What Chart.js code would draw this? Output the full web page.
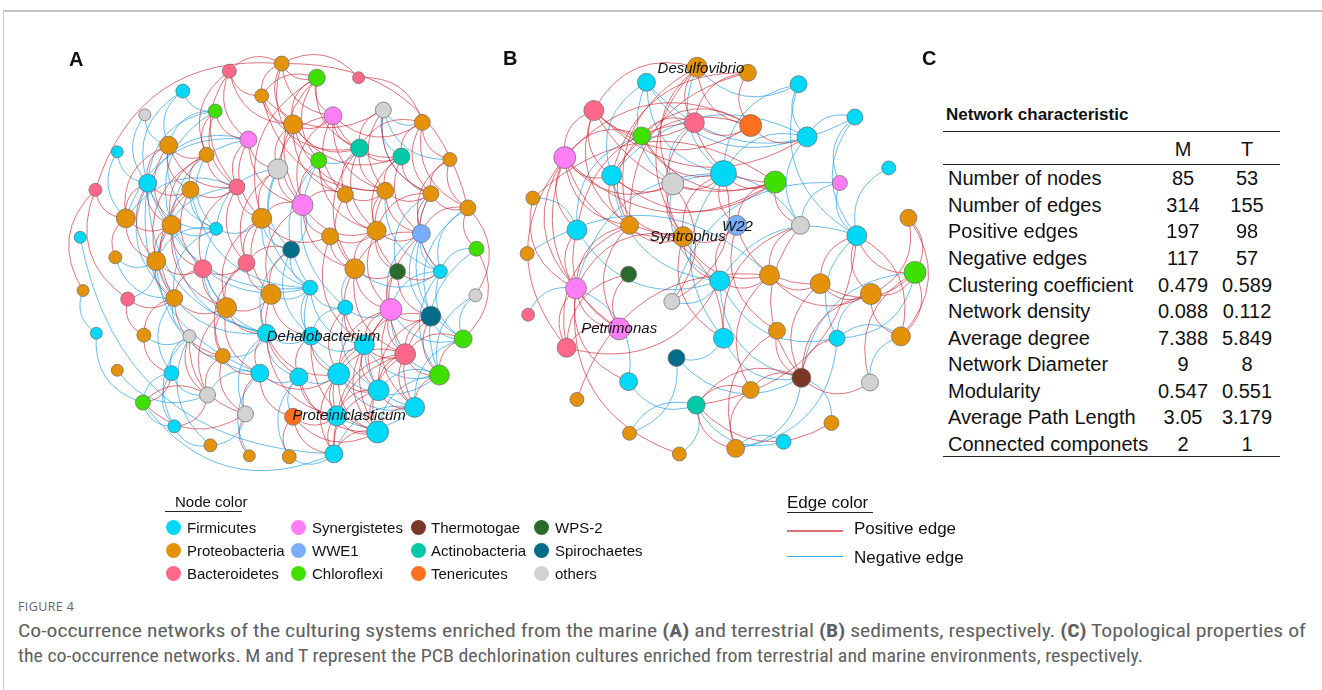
<!DOCTYPE html>
<html><head><meta charset="utf-8">
<script src="https://cdn.jsdelivr.net/npm/chart.js@4/dist/chart.umd.min.js"></script>
<style>
html,body{margin:0;padding:0;background:#fff;}
body{width:1322px;height:690px;position:relative;overflow:hidden;font-family:"Liberation Sans",Arial,sans-serif;color:#111;}
.abs{position:absolute;white-space:nowrap;}
canvas{position:absolute;}
</style></head><body>
<div class="abs" style="left:4px;top:10px;width:1318px;height:0;border-top:2px solid #c4c4c4"></div>
<div class="abs" style="left:3px;top:10px;width:0;height:680px;border-left:1px solid #cccccc"></div>
<canvas id="ca" width="470" height="465" style="left:40px;top:30px"></canvas>
<canvas id="cb" width="450" height="465" style="left:490px;top:30px"></canvas>
<div id="txt"></div>
<script>
// ---------- categories ----------
const phyla = ["Firmicutes","Proteobacteria","Bacteroidetes","Synergistetes","WWE1","Chloroflexi","Thermotogae","Actinobacteria","Tenericutes","WPS-2","Spirochaetes","others"];
const phylaColors = ["#00D8F8","#E3920A","#FF6889","#FF7DF5","#79AEFF","#3FE000","#7A3728","#00C8A8","#FF6F1F","#2C6A2C","#046C87","#D2D2D2"];

// ---------- network A (marine) : layout x, y, node size, phylum index ----------
const aX = [227,282,319,363,178,261,212,138,294,336,389,430,109,163,203,247,364,408,321,278,459,86,141,186,235,349,391,439,304,478,118,166,213,261,333,382,429,487,70,292,107,150,199,245,359,404,449,73,120,169,224,271,312,486,349,397,439,87,137,185,266,313,369,473,220,412,109,166,259,300,342,448,204,384,136,244,294,340,422,383,169,207,248,290,337];
const aY = [61,53,68,68,82,87,103,107,117,108,102,115,146,139,149,133,142,151,155,164,154,186,179,186,183,191,187,190,202,205,216,223,227,216,235,229,232,248,236,249,257,261,269,263,269,272,272,292,301,300,310,296,289,297,310,312,319,337,339,340,337,340,349,343,361,359,376,379,379,383,380,381,402,397,410,422,425,424,415,441,435,455,466,467,464];
const aSize = [7,7.5,8.5,6,7,7,7,6,9.5,9,8,8,6,9,7.5,8.5,9,8.5,8,10,7,6.5,9,8.5,8,8,8.5,8,10.5,8,9.5,9.5,6.5,10,8.5,9.5,9,7.5,6,8.5,6.5,9.5,9,8.5,10,8,7,6,7,8.5,10,10,7.5,6.5,7.5,11,10,6,7,6.5,9,9,10,9,7.5,10.5,6,7.5,9,9,11,10,8,10.5,7.5,8,8.5,10,10,11,6.5,6.5,6,7,9];
const aGroup = [2,1,5,2,0,1,5,11,1,3,11,1,0,1,1,3,7,7,5,11,1,2,0,1,2,1,1,1,3,1,1,1,0,1,1,1,4,5,0,10,1,1,2,2,1,9,0,1,2,1,1,1,0,11,0,3,10,0,1,11,0,0,0,5,1,2,1,0,0,0,0,5,11,0,5,11,8,0,0,0,0,1,1,1,0];
const aPos = [[1,21],[29,1],[1,0],[3,1],[11,3],[21,47],[53,29],[63,37],
[0,5],[0,8],[0,15],[0,24],[0,14],[1,5],[1,8],[1,2],[1,9],[1,18],
[2,5],[2,8],[2,9],[2,18],[2,28],[2,33],[2,16],[5,8],[5,16],[5,10],[5,26],
[6,15],[6,14],[6,24],[8,9],[8,16],[8,19],[8,25],[8,26],[8,28],[8,17],
[9,16],[9,17],[9,19],[9,25],[9,28],[9,26],[9,11],[10,16],[10,26],[10,27],
[11,17],[11,27],[11,29],[11,20],[11,16],[13,14],[13,22],[13,30],[13,31],[13,23],[13,24],
[14,24],[14,31],[14,23],[14,41],[15,19],[15,24],[15,33],[15,28],
[16,17],[16,25],[16,26],[16,35],[16,44],[17,26],[17,27],[17,35],[17,36],
[18,25],[18,28],[18,35],[19,33],[19,28],[19,43],[20,27],[20,29],[20,36],[21,30],[21,48],
[22,23],[22,30],[22,31],[22,41],[23,31],[23,24],[23,42],[23,49],[24,33],[24,43],[24,42],
[25,26],[25,28],[25,35],[25,44],[26,27],[26,35],[26,36],[26,45],[27,29],[27,36],[27,35],[27,46],
[28,33],[28,34],[28,35],[28,51],[28,44],[29,37],[29,36],[30,31],[30,41],[30,40],
[31,41],[31,49],[31,42],[31,50],[33,34],[33,43],[33,51],[33,50],[34,35],[34,44],[34,62],
[35,36],[35,44],[35,45],[35,55],[36,44],[36,65],[39,51],[39,43],[41,49],[41,42],
[42,43],[42,50],[42,49],[43,50],[43,51],[43,64],[44,45],[44,55],[44,62],[44,65],
[45,55],[45,46],[45,56],[48,49],[48,58],[49,58],[49,50],[49,64],
[50,64],[50,68],[50,51],[50,72],[50,60],[51,60],[51,61],[51,69],[54,62],[54,70],
[55,56],[55,62],[55,65],[55,70],[55,73],[55,79],[55,78],[56,65],[56,62],[56,71],[56,73],[56,78],
[58,67],[59,72],[59,75],[59,64],[60,68],[60,77],[60,70],[61,69],[61,70],[61,79],
[62,65],[62,70],[62,73],[62,77],[62,79],[63,71],[63,65],[64,72],[64,75],[64,68],
[65,70],[65,73],[65,78],[65,79],[65,71],[65,77],[65,84],[68,70],[68,76],[68,75],[69,77],[69,79],
[70,73],[70,77],[70,79],[70,84],[71,78],[72,74],[73,77],[73,78],[73,79],[73,84],[74,75],[74,67],
[76,79],[76,84],[76,77],[77,79],[77,84],[78,79],[79,84],[75,82],[76,83],[80,72]];
const aNeg = [[47,57],[38,84],[74,84],[66,72],[57,74],
[4,13],[4,6],[4,22],[6,13],[6,22],[6,31],[7,22],[7,13],[10,17],[10,11],[10,27],[10,20],
[12,22],[12,30],[13,32],[14,32],[15,22],[15,30],[15,31],[18,52],[18,16],[18,54],[19,39],[19,52],[19,32],
[22,32],[22,60],[22,68],[22,52],[22,49],[23,32],[23,52],[24,30],[24,41],
[26,46],[27,46],[27,45],[29,46],[29,56],[31,32],[31,52],[31,60],[32,49],[32,41],[32,33],[32,50],
[33,52],[33,39],[36,46],[36,55],[36,56],[36,63],[37,46],[37,71],[39,52],[39,60],[39,61],[39,28],
[40,41],[40,49],[41,60],[41,68],[42,61],[42,60],[44,46],[44,54],[46,55],[46,63],[46,71],[48,41],
[49,59],[49,67],[51,52],[52,61],[52,54],[52,70],[52,62],[53,63],[53,71],[54,55],[54,73],[54,61],
[55,63],[55,71],[56,63],[58,59],[59,67],[59,80],[59,81],[60,69],[60,61],[60,75],[61,62],[62,71],[62,78],
[63,78],[64,60],[67,72],[67,74],[67,80],[68,72],[68,69],[68,82],[69,70],[69,76],[69,83],[70,71],[70,78],
[71,73],[71,79],[74,80],[77,78],[78,84],[80,81],[83,84],[81,75]];
const aLabels = ["Dehalobacterium","Proteiniclasticum"];
const aLabelX = [326,353];
const aLabelY = [339,423];

// ---------- network B (terrestrial) ----------
const bX = [696,750,642,804,586,693,753,637,864,813,555,605,670,724,779,848,900,521,568,624,681,738,806,866,921,515,567,623,720,773,827,881,928,516,669,613,557,724,781,845,913,674,807,623,753,880,568,695,839,624,788,737,677];
const bY = [55,61,71,73,101,114,117,128,108,129,151,170,179,168,177,178,162,194,228,223,235,223,223,234,215,253,290,275,282,276,285,296,273,318,304,333,353,343,335,343,341,364,385,389,398,390,408,414,433,444,453,460,466];
const bSize = [10,8.5,9,8.5,10,10,11,9,8,10,11,10,11,13,11,7.5,7,7,10,9,10,10,9,10,8.5,7,10.5,8,10,10,10,10.5,11,6.5,8,11,9.5,10,8.5,8,9.5,8.5,9.5,9,8.5,8.5,7,9,7.5,7,7.5,9,7];
const bGroup = [1,1,0,0,2,2,8,5,0,0,3,0,11,0,5,3,0,1,0,1,1,4,11,0,1,1,3,9,0,1,1,1,5,2,11,3,2,0,1,0,1,10,6,0,1,11,1,7,1,1,0,1,1];
const bPos = [[0,4],[0,5],[0,20],[0,12],[0,6],[0,19],[1,5],[1,6],[1,19],[1,11],
[4,5],[4,6],[4,10],[4,11],[4,19],[4,14],[4,9],[5,6],[5,7],[5,20],[5,18],[5,14],
[6,9],[6,7],[6,11],[6,10],[7,10],[7,19],[7,14],[7,13],
[10,11],[10,18],[10,19],[10,26],[10,36],[10,35],[10,14],[10,20],[10,12],
[11,19],[11,20],[11,12],[11,14],[12,20],[12,13],[13,20],[13,14],[13,21],[14,22],[14,21],[14,17],
[17,26],[18,26],[18,35],[19,26],[19,35],[19,20],[19,36],[20,21],[20,29],[20,37],[20,26],[20,28],
[21,28],[21,38],[21,30],[22,29],[22,37],[22,42],[23,31],[23,32],[40,23],[23,30],[31,24],[40,24],[32,24],
[26,35],[26,36],[26,52],[26,43],[27,35],[27,36],[28,29],[29,30],[29,31],[29,44],[29,46],
[30,31],[30,42],[30,32],[31,32],[31,40],[31,42],[40,32],[32,45],[34,12],[34,13],[35,36],[36,28],
[37,19],[38,42],[38,51],[39,42],[42,45],[42,47],[42,44],[44,51],[44,47],[47,51],[47,48],[47,23]];
const bNeg = [[0,3],[0,13],[2,13],[2,12],[2,9],[2,11],[2,8],[3,13],[3,23],[3,9],[8,9],[8,23],[8,15],
[9,13],[9,11],[9,22],[15,22],[15,23],[15,34],[16,23],[5,12],[13,26],[11,28],[7,18],[18,17],[26,33],
[28,39],[28,42],[37,42],[41,37],[41,42],[43,47],[47,49],[47,50],[50,51],[51,42],[51,39],[39,32],[32,42],
[23,39],[22,12],[12,28],[13,37],[18,28],[29,25],[34,28],[40,39],[40,45],[31,39],[23,28],[48,42],[52,47],[49,41],[43,26]];
const bLabels = ["Desulfovibrio","W22","Syntrophus","Petrimonas"];
const bLabelX = [700,739,686,613];
const bLabelY = [55,223,234,332];

// ---------- table C ----------
const tableTitle = "Network characteristic";
const tableCols = ["M","T"];
const tableRows = ["Number of nodes","Number of edges","Positive edges","Negative edges","Clustering coefficient","Network density","Average degree","Network Diameter","Modularity","Average Path Length","Connected componets"];
const tableM = ["85","314","197","117","0.479","0.088","7.388","9","0.547","3.05","2"];
const tableT = ["53","155","98","57","0.589","0.112","5.849","8","0.551","3.179","1"];

// ---------- legends ----------
const edgeLegend = ["Positive edge","Negative edge"];
const edgeColors = ["rgba(200,40,52,0.72)","rgba(40,160,226,0.78)"];

const CURV = 0.4;
function edgePlugin(pos, neg, X, Y){
  return {id:'edges', beforeDatasetsDraw(chart){
    const ctx=chart.ctx, sx=chart.scales.x, sy=chart.scales.y;
    ctx.save(); ctx.lineWidth=0.9;
    const draw=(list,color)=>{
      ctx.strokeStyle=color;
      for(const [i,j] of list){
        const x1=sx.getPixelForValue(X[i]), y1=sy.getPixelForValue(Y[i]);
        const x2=sx.getPixelForValue(X[j]), y2=sy.getPixelForValue(Y[j]);
        const dx=x2-x1, dy=y2-y1;
        const cx=(x1+x2)/2-CURV*dy, cy=(y1+y2)/2+CURV*dx;
        ctx.beginPath(); ctx.moveTo(x1,y1); ctx.quadraticCurveTo(cx,cy,x2,y2); ctx.stroke();
      }
    };
    draw(neg, edgeColors[1]); draw(pos, edgeColors[0]);
    ctx.restore();
  }};
}
function makeNet(id, X, Y, S, G, pos, neg, xmin, xmax, ymin, ymax){
  return new Chart(document.getElementById(id), {
    type:'bubble',
    data:{datasets:[{data:X.map((x,i)=>({x:x,y:Y[i],r:S[i]})),
      backgroundColor:G.map(g=>phylaColors[g]), borderColor:'#6a6a6a', borderWidth:0.7, clip:false}]},
    options:{responsive:false, animation:false, events:[], layout:{padding:0},
      plugins:{legend:{display:false}, tooltip:{enabled:false}},
      scales:{x:{type:'linear',min:xmin,max:xmax,display:false}, y:{type:'linear',min:ymin,max:ymax,reverse:true,display:false}}},
    plugins:[edgePlugin(pos,neg,X,Y)]
  });
}
const chartA = makeNet('ca', aX, aY, aSize, aGroup, aPos, aNeg, 40, 510, 30, 495);
const chartB = makeNet('cb', bX, bY, bSize, bGroup, bPos, bNeg, 490, 940, 30, 495);

const T = document.getElementById('txt');
function put(text, x, y, fs, opt){
  opt = opt||{};
  const d=document.createElement('div'); d.className='abs';
  d.textContent=text; d.style.fontSize=fs+'px'; d.style.lineHeight=fs+'px';
  d.style.left=x+'px'; d.style.top=(y-fs/2)+'px';
  if(opt.center) d.style.transform='translateX(-50%)';
  if(opt.bold) d.style.fontWeight='bold';
  if(opt.italic) d.style.fontStyle='italic';
  if(opt.color) d.style.color=opt.color;
  if(opt.font) d.style.fontFamily=opt.font;
  T.appendChild(d); return d;
}
function rule(x,y,w,h,c){const d=document.createElement('div');d.className='abs';d.style.cssText+=`left:${x}px;top:${y}px;width:${w}px;height:${h}px;background:${c}`;T.appendChild(d);return d;}
function dot(x,y,r,c){const d=document.createElement('div');d.className='abs';d.style.cssText+=`left:${x-r}px;top:${y-r}px;width:${2*r}px;height:${2*r}px;border-radius:50%;background:${c}`;T.appendChild(d);}

// panel letters
put("A",69,59,20,{bold:true}); put("B",503,58,20,{bold:true}); put("C",922,58,20,{bold:true});

// node labels placed through the chart scales
function labels(chart, canvasLeft, canvasTop, L, LX, LY){
  L.forEach((t,i)=>put(t, canvasLeft+chart.scales.x.getPixelForValue(LX[i]), canvasTop+chart.scales.y.getPixelForValue(LY[i]), 15, {center:true, italic:true, color:'#111'}));
}
labels(chartA,40,30,aLabels,aLabelX,aLabelY);
labels(chartB,490,30,bLabels,bLabelX,bLabelY);

// table
put(tableTitle,946,114,17,{bold:true});
rule(943,131,337,1.3,'#222'); rule(943,163.5,337,1.3,'#222'); rule(943,455.5,337,1.3,'#222');
put(tableCols[0],1183,149,20,{center:true}); put(tableCols[1],1247,149,20,{center:true});
tableRows.forEach((r,i)=>{const y=178.3+i*26.57; put(r,948,y,20); put(tableM[i],1183,y,20,{center:true}); put(tableT[i],1247,y,20,{center:true});});

// node colour legend
put("Node color",175,501,15); rule(165,511,77,1.3,'#222');
const colX=[173,298,418,541], txtX=[187,312,431,555], rowY=[527,550.5,573.5];
phyla.forEach((p,i)=>{const c=Math.floor(i/3), r=i%3; dot(colX[c],rowY[r],7.5,phylaColors[i]); put(p,txtX[c],rowY[r],15);});

// edge colour legend
put("Edge color",787,502,17); rule(787,511.5,86,1.3,'#222');
rule(787,529.5,56,2,'#d9707a'); rule(787,555.5,56,1.3,'#3ea6e0');
put(edgeLegend[0],854,528,17); put(edgeLegend[1],854,557,17);

// caption
const capFont='"Liberation Sans Narrow","Roboto Condensed","Open Sans",sans-serif';
put("FIGURE 4",18,607,12.5,{color:'#666',font:'"Open Sans",sans-serif'}).style.letterSpacing='0.4px';
const c1=document.createElement('div'); c1.className='abs';
c1.innerHTML='Co-occurrence networks of the culturing systems enriched from the marine <b>(A)</b> and terrestrial <b>(B)</b> sediments, respectively. <b>(C)</b> Topological properties of';
const c2=document.createElement('div'); c2.className='abs';
c2.textContent='the co-occurrence networks. M and T represent the PCB dechlorination cultures enriched from terrestrial and marine environments, respectively.';
[[c1,631,1288],[c2,656,1125]].forEach(([el,y,w])=>{
  el.style.cssText+=`left:18px;top:${y-9}px;font-size:18px;line-height:18px;color:#606060;font-family:${capFont};transform-origin:0 50%`;
  T.appendChild(el);
  const cur=el.getBoundingClientRect().width; el.style.transform=`scaleX(${w/cur})`;
});
</script>
</body></html>
